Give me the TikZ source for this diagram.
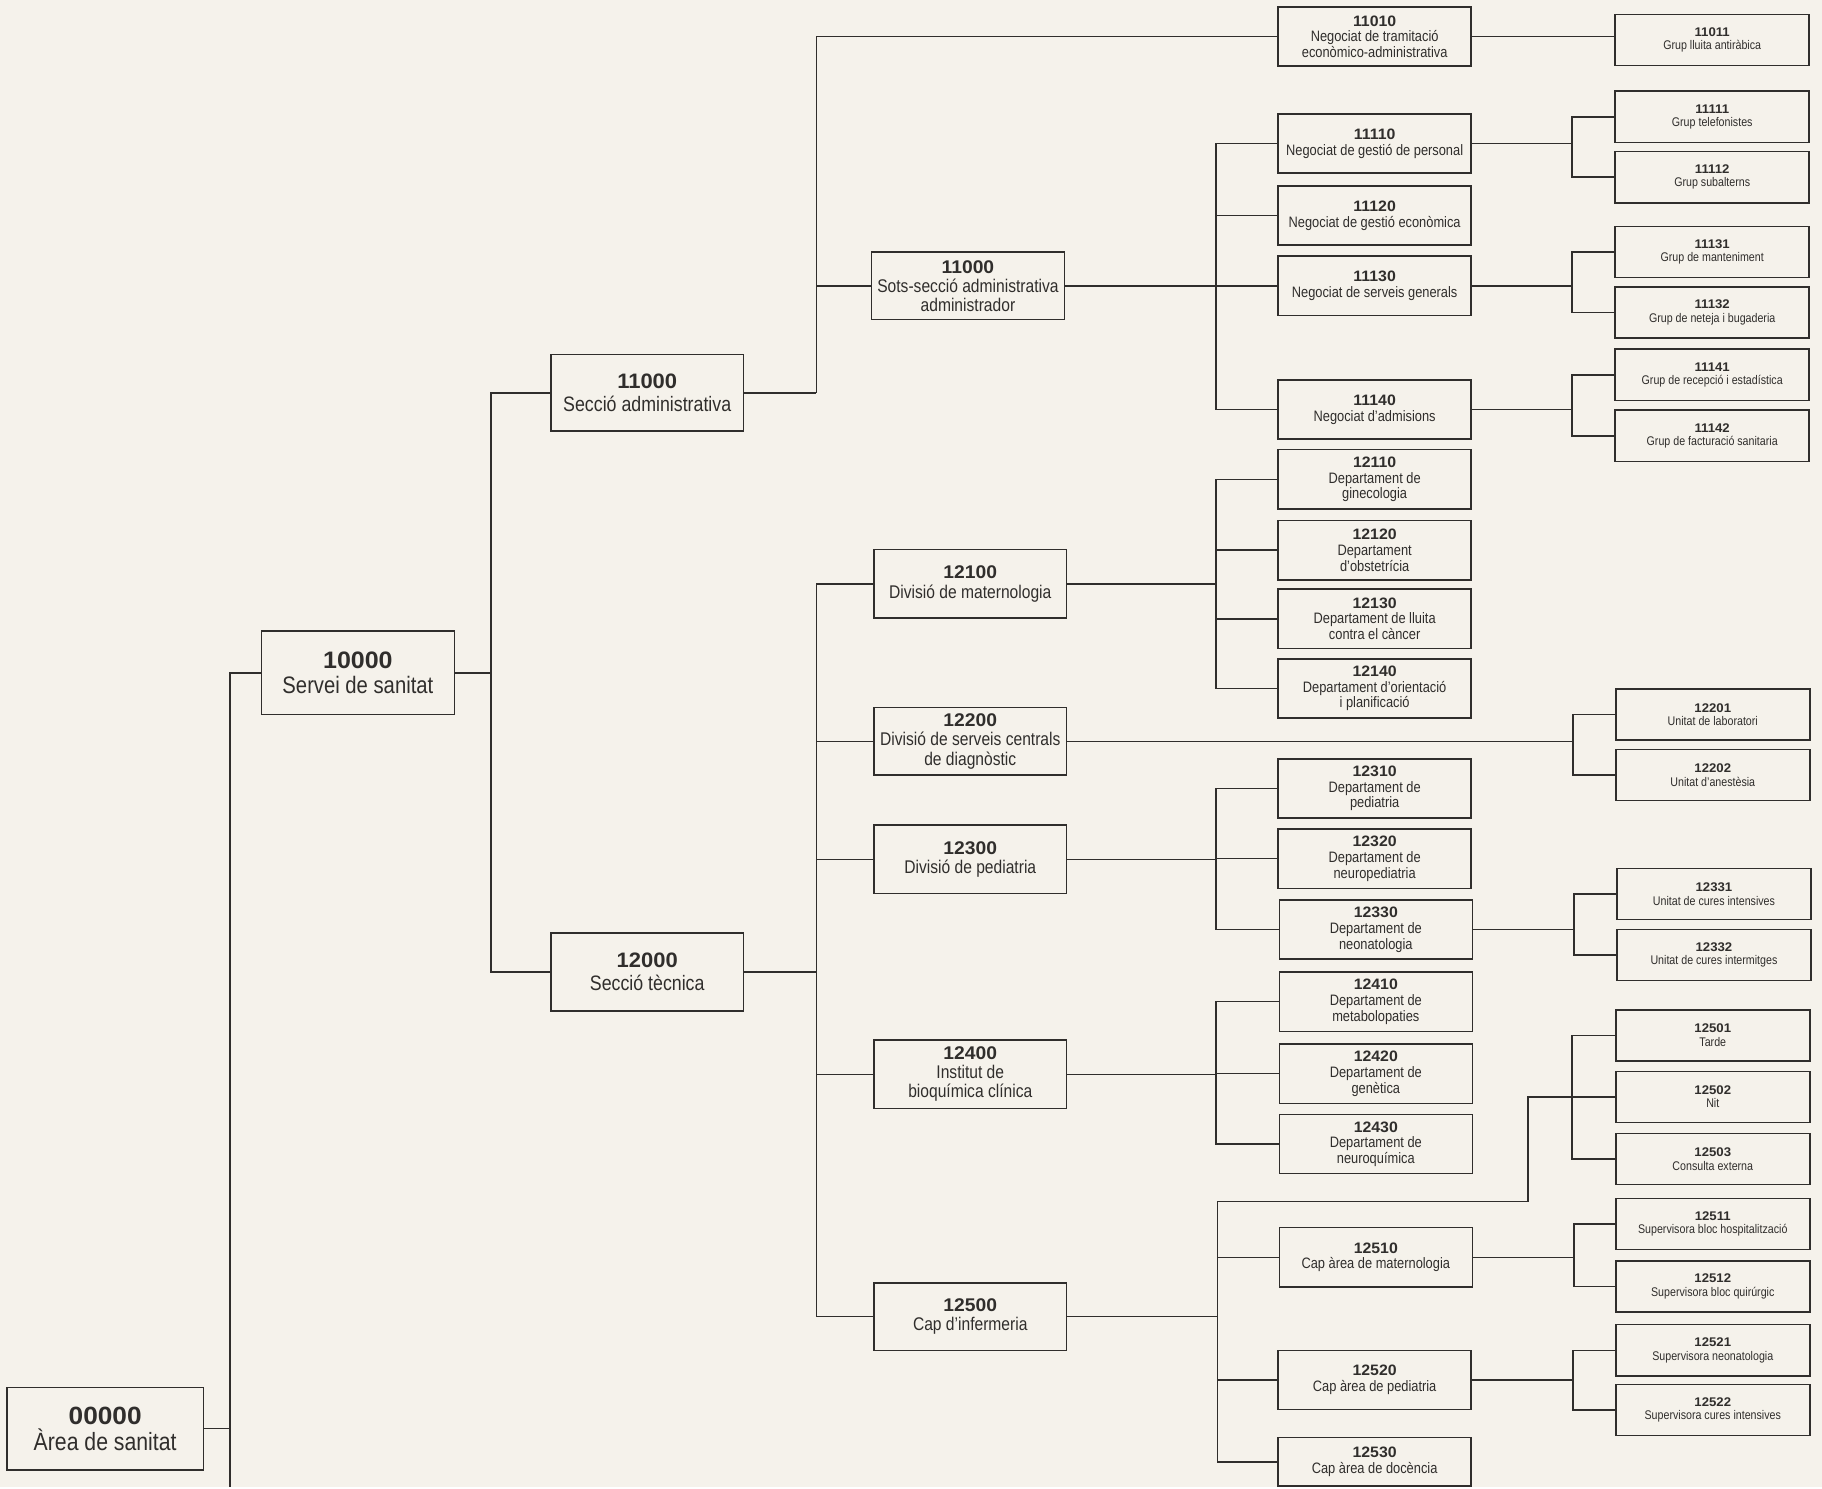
\documentclass[tikz,border=0pt]{standalone}
\usepackage{fontspec}
\setmainfont{Liberation Sans}[FakeStretch=0.85]
\newfontfamily\codefont{Liberation Sans}[FakeStretch=1.05]
\newcommand{\codi}[1]{{\codefont\bfseries #1}}
\usetikzlibrary{calc}
\definecolor{paper}{RGB}{245,242,235}
\definecolor{ink}{RGB}{48,46,44}
\tikzset{
	areanode/.style={rectangle, draw=ink, line width=1.3pt, text=ink, align=center, inner sep=0pt, minimum width=166pt, font=\fontsize{20.5}{21}\selectfont},
	seccnode/.style={areanode, font=\fontsize{18}{19.5}\selectfont},
	divnode/.style={areanode, font=\fontsize{15.8}{16.5}\selectfont, minimum height=58pt},
	negnode/.style={areanode, font=\fontsize{13}{13.5}\selectfont, minimum height=51pt},
	grupnode/.style={areanode, font=\fontsize{10.8}{11.5}\selectfont, minimum height=44pt, minimum width=167pt},
	link/.style={draw=ink, line width=1.3pt}
}
\begin{document}
\begin{tikzpicture}[x=1pt, y=-1pt]
	\fill[paper] (0,0) rectangle (1568,1280);
	% arees i seccions
	\node[areanode, minimum width=169pt, minimum height=71pt, font=\fontsize{21.5}{22}\selectfont] at (90.5,1229.5) (N00000) {\codi{00000}\\Àrea de sanitat};
	\node[areanode, minimum height=72pt] at (308,579) (N10000) {\codi{10000}\\Servei de sanitat};
	\node[seccnode, minimum height=66pt] at (557,338) (N11000) {\codi{11000}\\Secció administrativa};
	\node[seccnode, minimum height=67pt] at (557,836.5) (N12000) {\codi{12000}\\Secció tècnica};
	
	% sots-seccio i divisions
	\node[divnode] at (833,246) (S11000) {\codi{11000}\\Sots-secció administrativa\\administrador};
	\node[divnode, minimum height=59pt] at (835,502.5) (N12100) {\codi{12100}\\Divisió de maternologia};
	\node[divnode] at (835,638) (N12200) {\codi{12200}\\Divisió de serveis centrals\\de diagnòstic};
	\node[divnode, minimum height=59pt] at (835,739.5) (N12300) {\codi{12300}\\Divisió de pediatria};
	\node[divnode, minimum height=59pt] at (835,924.5) (N12400) {\codi{12400}\\Institut de\\bioquímica clínica};
	\node[divnode] at (835,1133) (N12500) {\codi{12500}\\Cap d'infermeria};
	
	% negociats i departaments
	\node[negnode] at (1183,31.5) (N11010) {\codi{11010}\\Negociat de tramitació\\econòmico-administrativa};
	\node[negnode] at (1183,123.5) (N11110) {\codi{11110}\\Negociat de gestió de personal};
	\node[negnode] at (1183,185.5) (N11120) {\codi{11120}\\Negociat de gestió econòmica};
	\node[negnode] at (1183,246) (N11130) {\codi{11130}\\Negociat de serveis generals};
	\node[negnode] at (1183,352.5) (N11140) {\codi{11140}\\Negociat d'admisions};
	\node[negnode] at (1183,412.5) (N12110) {\codi{12110}\\Departament de\\ginecologia};
	\node[negnode] at (1183,473.5) (N12120) {\codi{12120}\\Departament\\d'obstetrícia};
	\node[negnode] at (1183,532.5) (N12130) {\codi{12130}\\Departament de lluita\\contra el càncer};
	\node[negnode] at (1183,592.5) (N12140) {\codi{12140}\\Departament d'orientació\\i planificació};
	\node[negnode] at (1183,678.5) (N12310) {\codi{12310}\\Departament de\\pediatria};
	\node[negnode] at (1183,739) (N12320) {\codi{12320}\\Departament de\\neuropediatria};
	\node[negnode] at (1184,800) (N12330) {\codi{12330}\\Departament de\\neonatologia};
	\node[negnode] at (1184,862) (N12410) {\codi{12410}\\Departament de\\metabolopaties};
	\node[negnode] at (1184,924) (N12420) {\codi{12420}\\Departament de\\genètica};
	\node[negnode] at (1184,984.5) (N12430) {\codi{12430}\\Departament de\\neuroquímica};
	\node[negnode] at (1184,1082) (N12510) {\codi{12510}\\Cap àrea de maternologia};
	\node[negnode] at (1183,1187.5) (N12520) {\codi{12520}\\Cap àrea de pediatria};
	\node[negnode, minimum height=42pt] at (1183,1258) (N12530) {\codi{12530}\\Cap àrea de docència};
	
	% grups i unitats
	\node[grupnode] at (1473.5,34.5) (N11011) {\codi{11011}\\Grup lluita antiràbica};
	\node[grupnode] at (1473.5,100.5) (N11111) {\codi{11111}\\Grup telefonistes};
	\node[grupnode] at (1473.5,152.5) (N11112) {\codi{11112}\\Grup subalterns};
	\node[grupnode] at (1473.5,217) (N11131) {\codi{11131}\\Grup de manteniment};
	\node[grupnode] at (1473.5,269) (N11132) {\codi{11132}\\Grup de neteja i bugaderia};
	\node[grupnode] at (1473.5,322.5) (N11141) {\codi{11141}\\Grup de recepció i estadística};
	\node[grupnode] at (1473.5,375) (N11142) {\codi{11142}\\Grup de facturació sanitaria};
	\node[grupnode] at (1474,615) (N12201) {\codi{12201}\\Unitat de laboratori};
	\node[grupnode] at (1474,667) (N12202) {\codi{12202}\\Unitat d'anestèsia};
	\node[grupnode] at (1475,769.5) (N12331) {\codi{12331}\\Unitat de cures intensives};
	\node[grupnode] at (1475,822) (N12332) {\codi{12332}\\Unitat de cures intermitges};
	\node[grupnode] at (1474,891) (N12501) {\codi{12501}\\Tarde};
	\node[grupnode] at (1474,944) (N12502) {\codi{12502}\\Nit};
	\node[grupnode] at (1474,997.5) (N12503) {\codi{12503}\\Consulta externa};
	\node[grupnode] at (1474,1053.5) (N12511) {\codi{12511}\\Supervisora bloc hospitalització};
	\node[grupnode] at (1474,1107) (N12512) {\codi{12512}\\Supervisora bloc quirúrgic};
	\node[grupnode] at (1474,1162) (N12521) {\codi{12521}\\Supervisora neonatologia};
	\node[grupnode] at (1474,1213.5) (N12522) {\codi{12522}\\Supervisora cures intensives};
	
	% connexions
	\coordinate (S0) at (198,1280);
	\draw[link] (N10000.west) -| (S0);
	\draw[link] (N00000.east) -- (N00000.east -| S0);
	
	\coordinate (J10000) at ($(N10000.east)+(31,0)$);
	\draw[link] (N10000.east) -- (J10000);
	\draw[link] (J10000) |- (N11000.west);
	\draw[link] (J10000) |- (N12000.west);
	
	\coordinate (J11000) at ($(N11000.east)+(62,0)$);
	\draw[link] (N11000.east) -- (J11000);
	\draw[link] (J11000) |- (N11010.west);
	\draw[link] (J11000) |- (S11000.west);
	
	\coordinate (J12000) at ($(N12000.east)+(62,0)$);
	\draw[link] (N12000.east) -- (J12000);
	\foreach \n in {12100,12200,12300,12400,12500}
		\draw[link] (J12000) |- (N\n.west);
	
	\coordinate (JS11000) at ($(S11000.east)+(130,0)$);
	\draw[link] (S11000.east) -- (JS11000);
	\foreach \n in {11110,11120,11130,11140}
		\draw[link] (JS11000) |- (N\n.west);
	
	\draw[link] (N11010.east) -- (N11010.east -| N11011.west);
	
	\coordinate (J11110) at ($(N11110.east)+(86,0)$);
	\draw[link] (N11110.east) -- (J11110);
	\draw[link] (J11110) |- (N11111.west);
	\draw[link] (J11110) |- (N11112.west);
	
	\coordinate (J11130) at ($(N11130.east)+(86,0)$);
	\draw[link] (N11130.east) -- (J11130);
	\draw[link] (J11130) |- (N11131.west);
	\draw[link] (J11130) |- (N11132.west);
	
	\coordinate (J11140) at ($(N11140.east)+(86,0)$);
	\draw[link] (N11140.east) -- (J11140);
	\draw[link] (J11140) |- (N11141.west);
	\draw[link] (J11140) |- (N11142.west);
	
	\coordinate (J12100) at ($(N12100.east)+(128,0)$);
	\draw[link] (N12100.east) -- (J12100);
	\foreach \n in {12110,12120,12130,12140}
		\draw[link] (J12100) |- (N\n.west);
	
	\coordinate (J12200) at ($(N12200.east)+(435,0)$);
	\draw[link] (N12200.east) -- (J12200);
	\draw[link] (J12200) |- (N12201.west);
	\draw[link] (J12200) |- (N12202.west);
	
	\coordinate (J12300) at ($(N12300.east)+(128,0)$);
	\draw[link] (N12300.east) -- (J12300);
	\foreach \n in {12310,12320,12330}
		\draw[link] (J12300) |- (N\n.west);
	
	\coordinate (J12330) at ($(N12330.east)+(87,0)$);
	\draw[link] (N12330.east) -- (J12330);
	\draw[link] (J12330) |- (N12331.west);
	\draw[link] (J12330) |- (N12332.west);
	
	\coordinate (J12400) at ($(N12400.east)+(128,0)$);
	\draw[link] (N12400.east) -- (J12400);
	\foreach \n in {12410,12420,12430}
		\draw[link] (J12400) |- (N\n.west);
	
	\coordinate (J12500) at ($(N12500.east)+(129,0)$);
	\coordinate (K12500) at (1315,1034);
	\draw[link] (N12500.east) -- (J12500);
	\draw[link] (J12500) |- (K12500) |- (N12502.west);
	\foreach \n in {12510,12520,12530}
		\draw[link] (J12500) |- (N\n.west);
	
	\coordinate (J12502) at ($(N12502.west)+(-37,0)$);
	\draw[link] (J12502) |- (N12501.west);
	\draw[link] (J12502) |- (N12503.west);
	
	\coordinate (J12510) at ($(N12510.east)+(87,0)$);
	\draw[link] (N12510.east) -- (J12510);
	\draw[link] (J12510) |- (N12511.west);
	\draw[link] (J12510) |- (N12512.west);
	
	\coordinate (J12520) at ($(N12520.east)+(87,0)$);
	\draw[link] (N12520.east) -- (J12520);
	\draw[link] (J12520) |- (N12521.west);
	\draw[link] (J12520) |- (N12522.west);
\end{tikzpicture}
\end{document}
